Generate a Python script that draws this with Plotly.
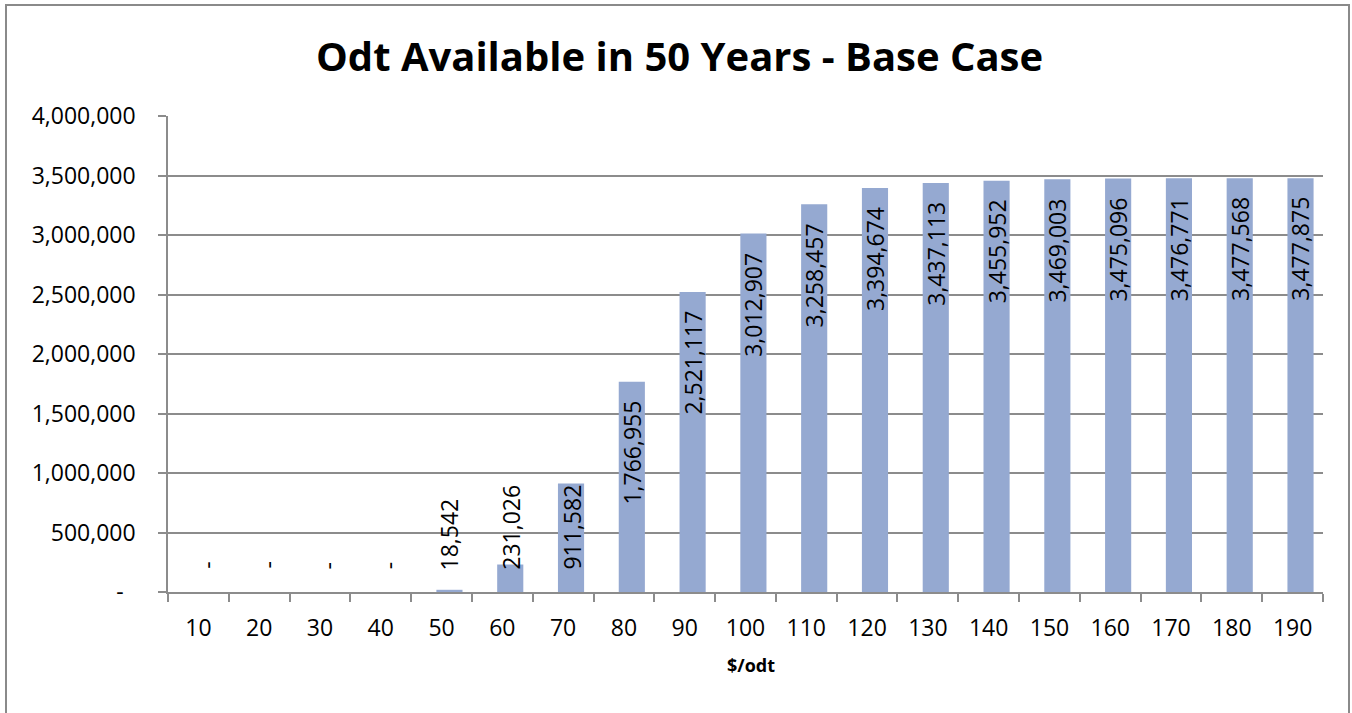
import plotly.graph_objects as go

categories = ["10", "20", "30", "40", "50", "60", "70", "80", "90", "100",
              "110", "120", "130", "140", "150", "160", "170", "180", "190"]
values = [0, 0, 0, 0, 18542, 231026, 911582, 1766955, 2521117, 3012907,
          3258457, 3394674, 3437113, 3455952, 3469003, 3475096, 3476771, 3477568, 3477875]
y_tickvals = [0, 500000, 1000000, 1500000, 2000000, 2500000, 3000000, 3500000, 4000000]
y_ticktext = ["-\u00a0\u00a0", "500,000", "1,000,000", "1,500,000", "2,000,000",
              "2,500,000", "3,000,000", "3,500,000", "4,000,000"]
title_text = "Odt Available in 50 Years - Base Case"
x_title = "$/odt"

FONT = "Open Sans"
FS = 23
BAR = "#95A9D1"
GRID = "#8C8C8C"

W, H = 1352, 713
L, R, T, B = 168, 29, 116, 121

BAR_W = 0.43       # bar width in category units
BAR_SHIFT = 0.13   # bars sit slightly right of the category centre (as in the original)

fig = go.Figure()
fig.add_trace(go.Bar(x=categories, y=values, marker=dict(color=BAR, line=dict(width=0)),
                     width=BAR_W, offset=BAR_SHIFT - BAR_W / 2,
                     hoverinfo="x+y"))

annotations = []
for i, v in enumerate(values):
    txt = "-" if v == 0 else f"{v:,}"
    xi = i + BAR_SHIFT
    if v > 1000000:
        annotations.append(dict(x=xi, y=v, xref="x", yref="y", text=txt, textangle=-90,
                                showarrow=False, yanchor="top", xanchor="center",
                                yshift=-17, font=dict(family=FONT, size=FS, color="black")))
    else:
        annotations.append(dict(x=xi, y=0, xref="x", yref="y", text=txt, textangle=-90,
                                showarrow=False, yanchor="bottom", xanchor="center",
                                yshift=(21 if v == 0 else 20),
                                font=dict(family=FONT, size=FS, color="black")))

pw = W - L - R
ph = H - T - B
annotations.append(dict(x=(679 - L) / pw, y=(H - B - 55) / ph, xref="paper", yref="paper",
                        text=f"<b>{title_text}</b>", showarrow=False, xanchor="center",
                        yanchor="middle",
                        font=dict(family="Open Sans", size=40, color="black")))
annotations.append(dict(x=(751 - L) / pw, y=(H - B - 665) / ph, xref="paper", yref="paper",
                        text=f"<b>{x_title}</b>", showarrow=False, xanchor="center",
                        yanchor="middle",
                        font=dict(family="Open Sans", size=18, color="black")))

fig.update_layout(
    width=W, height=H,
    margin=dict(l=L, r=R, t=T, b=B, pad=0),
    paper_bgcolor="white", plot_bgcolor="white",
    showlegend=False,
    annotations=annotations,
    font=dict(family=FONT, size=FS, color="black"),
    shapes=[dict(type="rect", xref="paper", yref="paper",
                 x0=(6 - L) / pw, x1=(1349 - L) / pw,
                 y0=(H - B - 740) / ph, y1=(H - B - 5) / ph,
                 line=dict(color="#8A8A8A", width=2), fillcolor="rgba(0,0,0,0)", layer="below")],
)
fig.update_xaxes(type="category", range=[-0.5, len(categories) - 0.5], automargin=False,
                 showline=True, linecolor=GRID, linewidth=1.5, tickangle=0,
                 ticks="outside", tickson="boundaries", ticklen=8, tickcolor=GRID, tickwidth=1.5,
                 showgrid=False, ticklabelstandoff=15,
                 tickfont=dict(family=FONT, size=FS, color="black"))
fig.update_yaxes(range=[0, 4000000], tickvals=y_tickvals, ticktext=y_ticktext, automargin=False,
                 showline=True, linecolor=GRID, linewidth=1.5,
                 ticks="outside", ticklen=8, tickcolor=GRID, tickwidth=1.5,
                 showgrid=True, gridcolor=GRID, gridwidth=1.5, zeroline=False,
                 ticklabelstandoff=18,
                 tickfont=dict(family=FONT, size=FS, color="black"))

fig.write_html("out.html", config={"displayModeBar": False},
               post_script="document.body.style.margin='0px';document.body.style.overflow='hidden';")
